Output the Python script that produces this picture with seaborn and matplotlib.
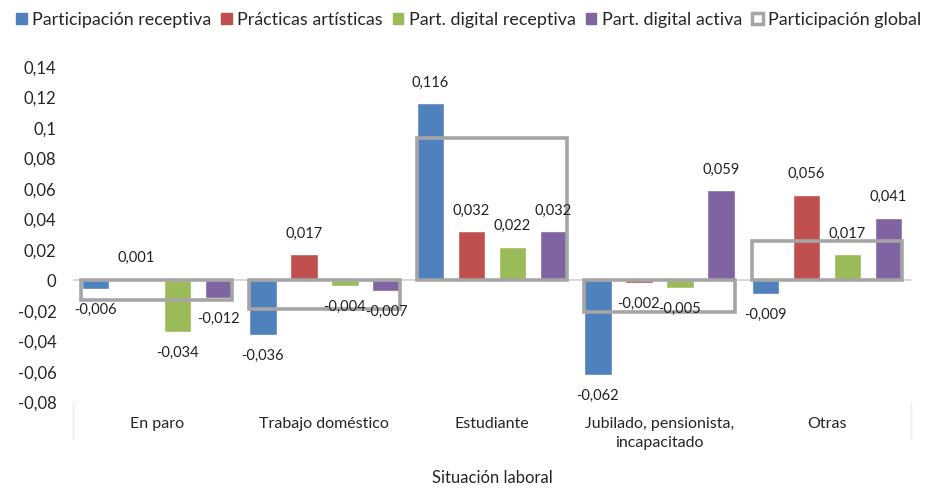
import matplotlib
matplotlib.use("Agg")
import matplotlib.pyplot as plt
from matplotlib.patches import Patch
from matplotlib.ticker import FuncFormatter
import pandas as pd
import seaborn as sns

# Data
categories = [
    "En paro",
    "Trabajo doméstico",
    "Estudiante",
    "Jubilado, pensionista,\nincapacitado",
    "Otras",
]
series_names = [
    "Participación receptiva",
    "Prácticas artísticas",
    "Part. digital receptiva",
    "Part. digital activa",
]
receptiva = [-0.006, -0.036, 0.116, -0.062, -0.009]
artisticas = [0.001, 0.017, 0.032, -0.002, 0.056]
digital_receptiva = [-0.034, -0.004, 0.022, -0.005, 0.017]
digital_activa = [-0.012, -0.007, 0.032, 0.059, 0.041]
global_name = "Participación global"
participacion_global = [-0.013, -0.019, 0.093, -0.021, 0.026]

colors = ["#4F81BD", "#C0504D", "#9BBB59", "#8064A2"]
gray = "#A5A5A5"

sns.set_style("white")
plt.rcParams["font.family"] = ["Lato", "DejaVu Sans"]

rows = []
for name, vals in zip(series_names, [receptiva, artisticas, digital_receptiva, digital_activa]):
    for cat, v in zip(categories, vals):
        rows.append({"situacion": cat, "serie": name, "valor": v})
df = pd.DataFrame(rows)
df_global = pd.DataFrame({"situacion": categories, "valor": participacion_global})

fig = plt.figure(figsize=(9.37, 4.88), dpi=100)
ax = fig.add_axes([0.078, 0.176, 0.894, 0.687])

sns.barplot(
    data=df, x="situacion", y="valor", hue="serie",
    order=categories, hue_order=series_names, palette=colors,
    width=0.98, gap=0.33, errorbar=None, legend=False, ax=ax,
    saturation=1, zorder=2,
)

# data labels with comma decimals (drawn above the grey outlines)
for container, vals in zip(ax.containers, [receptiva, artisticas, digital_receptiva, digital_activa]):
    labels = [f"{v:.3f}".replace(".", ",") for v in vals]
    ax.bar_label(container, labels=labels, padding=10, fontsize=10.5,
                 color="#222222", zorder=5)

# zero line
ax.axhline(0, color="#D9D9D9", lw=1.5, zorder=1)

# hollow "global" bars on top
sns.barplot(
    data=df_global, x="situacion", y="valor", order=categories,
    width=0.9, fill=False, color=gray, linewidth=2.6,
    errorbar=None, ax=ax, zorder=3,
)
for p in ax.patches[-len(categories):]:
    p.set_edgecolor(gray)
    p.set_linewidth(2.6)
    p.set_joinstyle("miter")

ax.set_ylim(-0.08, 0.14)
ax.set_xlim(-0.5, len(categories) - 0.5)
ax.set_yticks([-0.08, -0.06, -0.04, -0.02, 0, 0.02, 0.04, 0.06, 0.08, 0.1, 0.12, 0.14])
ax.yaxis.set_major_formatter(FuncFormatter(lambda v, _: f"{round(v, 2):g}".replace(".", ",")))
ax.tick_params(axis="y", length=0, pad=12, labelsize=12, labelcolor="#262626")
ax.tick_params(axis="x", length=0, pad=11, labelsize=11.5, labelcolor="#262626")
for lab in ax.get_xticklabels():
    lab.set_multialignment("center")
    lab.set_linespacing(1.45)

for s in ax.spines.values():
    s.set_visible(False)

# light separators at the outer edges of the category axis
for xe in ax.get_xlim():
    ax.axvline(xe, ymin=-0.11, ymax=0.0, color="#EDEDED", lw=1, clip_on=False)

ax.set_xlabel("Situación laboral", fontsize=12, color="#262626")
ax.xaxis.set_label_coords(0.5, -0.227)
ax.xaxis.label.set_va("center")
ax.set_ylabel("")

handles = [Patch(facecolor=c, edgecolor=c) for c in colors]
handles.append(Patch(facecolor="white", edgecolor=gray, linewidth=2.5))
fig.legend(
    handles, series_names + [global_name], loc="upper center",
    bbox_to_anchor=(0.5, 1.0), ncol=5, frameon=False, fontsize=12.9,
    handlelength=0.6, handleheight=0.6, handletextpad=0.3, columnspacing=0.55,
    borderaxespad=0.25,
)

fig.savefig("out.png", dpi=100)
